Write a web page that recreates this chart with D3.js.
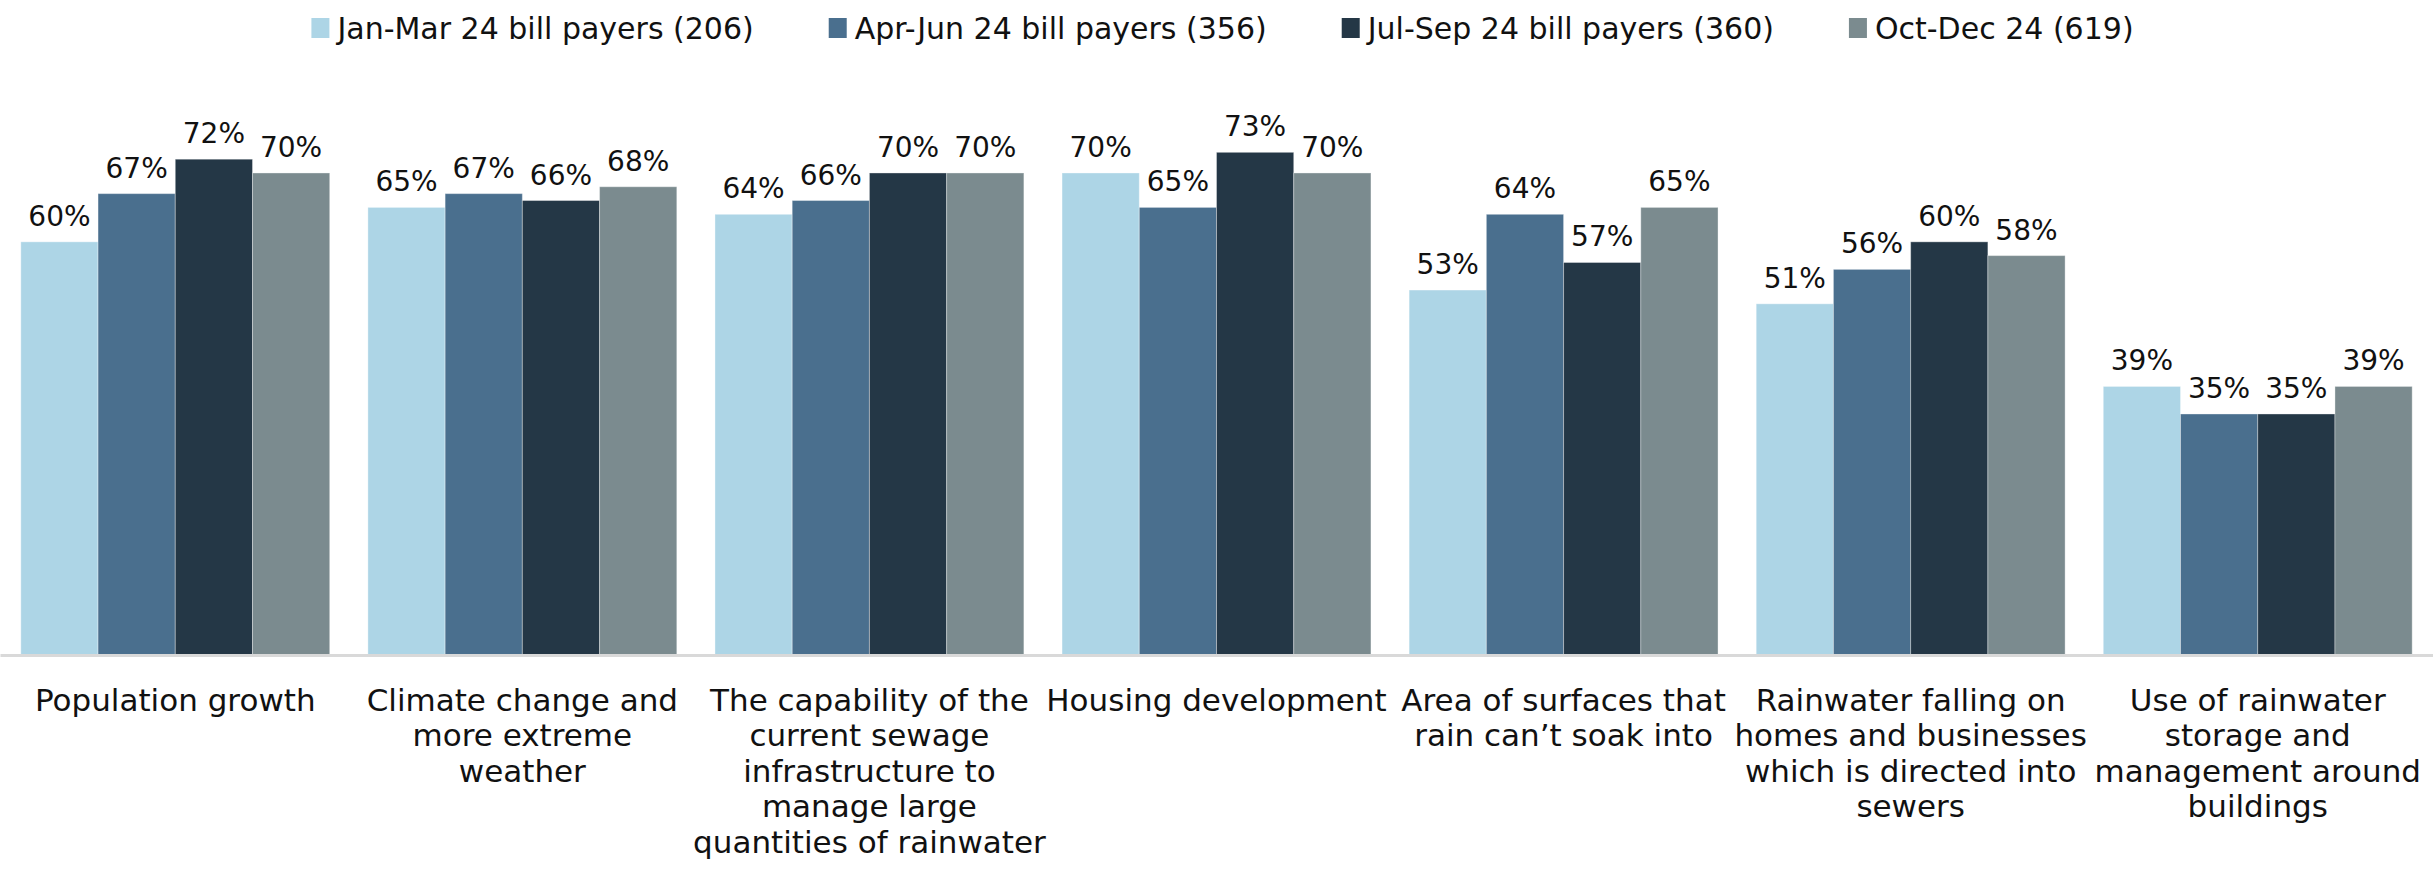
<!DOCTYPE html>
<html>
<head>
<meta charset="utf-8">
<script src="https://cdn.jsdelivr.net/npm/d3@7"></script>
<style>
  body { margin: 0; background: #fff; }
  svg text { font-family: "DejaVu Sans", sans-serif; fill: #111; }
</style>
</head>
<body>
<div id="chart"></div>
<script>
// categories, one entry per group (already split into lines as in the source)
const categories = [
	["Population growth"],
	["Climate change and", "more extreme", "weather"],
	["The capability of the", "current sewage", "infrastructure to", "manage large", "quantities of rainwater"],
	["Housing development"],
	["Area of surfaces that", "rain can\u2019t soak into"],
	["Rainwater falling on", "homes and businesses", "which is directed into", "sewers"],
	["Use of rainwater", "storage and", "management around", "buildings"]
];

const seriesNames = [
	"Jan-Mar 24 bill payers (206)",
	"Apr-Jun 24 bill payers (356)",
	"Jul-Sep 24 bill payers (360)",
	"Oct-Dec 24 (619)"
];

const janMar = [60, 65, 64, 70, 53, 51, 39];
const aprJun = [67, 67, 66, 65, 64, 56, 35];
const julSep = [72, 66, 70, 73, 57, 60, 35];
const octDec = [70, 68, 70, 70, 65, 58, 39];

const colors = ["#add5e6", "#4a6f8e", "#243746", "#7b8b8f"];

const series = [janMar, aprJun, julSep, octDec];

const width = 2433;
const height = 879;
const baseline = 655;

const svg = d3.select('#chart')
	.append('svg')
	.attr('width', width)
	.attr('height', height);

const x = d3.scaleBand()
	.domain(d3.range(categories.length))
	.range([0, width])
	.paddingInner(0.11)
	.paddingOuter(0.06);

const xInner = d3.scaleBand()
	.domain(d3.range(series.length))
	.range([0, x.bandwidth()]);

const y = d3.scaleLinear()
	.domain([0, 100])
	.range([baseline, baseline - 688.6]);

// flat list of bars
const bars = [];
series.forEach((vals, s) => {
	vals.forEach((v, c) => bars.push({ s: s, c: c, v: v }));
});

svg.selectAll('rect.bar')
	.data(bars)
	.enter()
	.append('rect')
	.attr('class', 'bar')
	.attr('x', d => x(d.c) + xInner(d.s))
	.attr('y', d => y(d.v))
	.attr('width', xInner.bandwidth())
	.attr('height', d => y(0) - y(d.v))
	.attr('fill', d => colors[d.s])
	.attr('stroke', 'rgba(255,255,255,0.35)')
	.attr('stroke-width', 1);

svg.selectAll('text.val')
	.data(bars)
	.enter()
	.append('text')
	.attr('class', 'val')
	.attr('x', d => x(d.c) + xInner(d.s) + xInner.bandwidth() / 2)
	.attr('y', d => y(d.v) - 16)
	.attr('text-anchor', 'middle')
	.style('font-size', '28px')
	.text(d => d.v + '%');

// axis line
const xAxis = d3.axisBottom(x).tickSize(0).tickFormat('');
svg.append('g')
	.attr('transform', `translate(0,${baseline})`)
	.call(xAxis)
	.call(g => g.select('.domain').attr('stroke', '#d9d9d9').attr('stroke-width', 3));

// category labels
const catG = svg.selectAll('text.cat')
	.data(categories)
	.enter()
	.append('text')
	.attr('class', 'cat')
	.attr('text-anchor', 'middle')
	.style('font-size', '31px');

catG.selectAll('tspan')
	.data((d, i) => d.map(line => ({ line: line, i: i })))
	.enter()
	.append('tspan')
	.attr('x', d => x(d.i) + x.bandwidth() / 2)
	.attr('y', (d, j) => 711 + j * 35.4)
	.text(d => d.line);

// legend
const legend = svg.append('g');
let lx = 0;
const gap = 75;
seriesNames.forEach((name, i) => {
	const item = legend.append('g').attr('transform', `translate(${lx},0)`);
	item.append('rect')
		.attr('x', 0)
		.attr('y', 18)
		.attr('width', 18)
		.attr('height', 20)
		.attr('fill', colors[i]);
	const t = item.append('text')
		.attr('x', 26)
		.attr('y', 39)
		.style('font-size', '30px')
		.text(name);
	lx += 26 + t.node().getComputedTextLength() + gap;
});
legend.attr('transform', `translate(${(width - (lx - gap)) / 2 + 6},0)`);
</script>
</body>
</html>
